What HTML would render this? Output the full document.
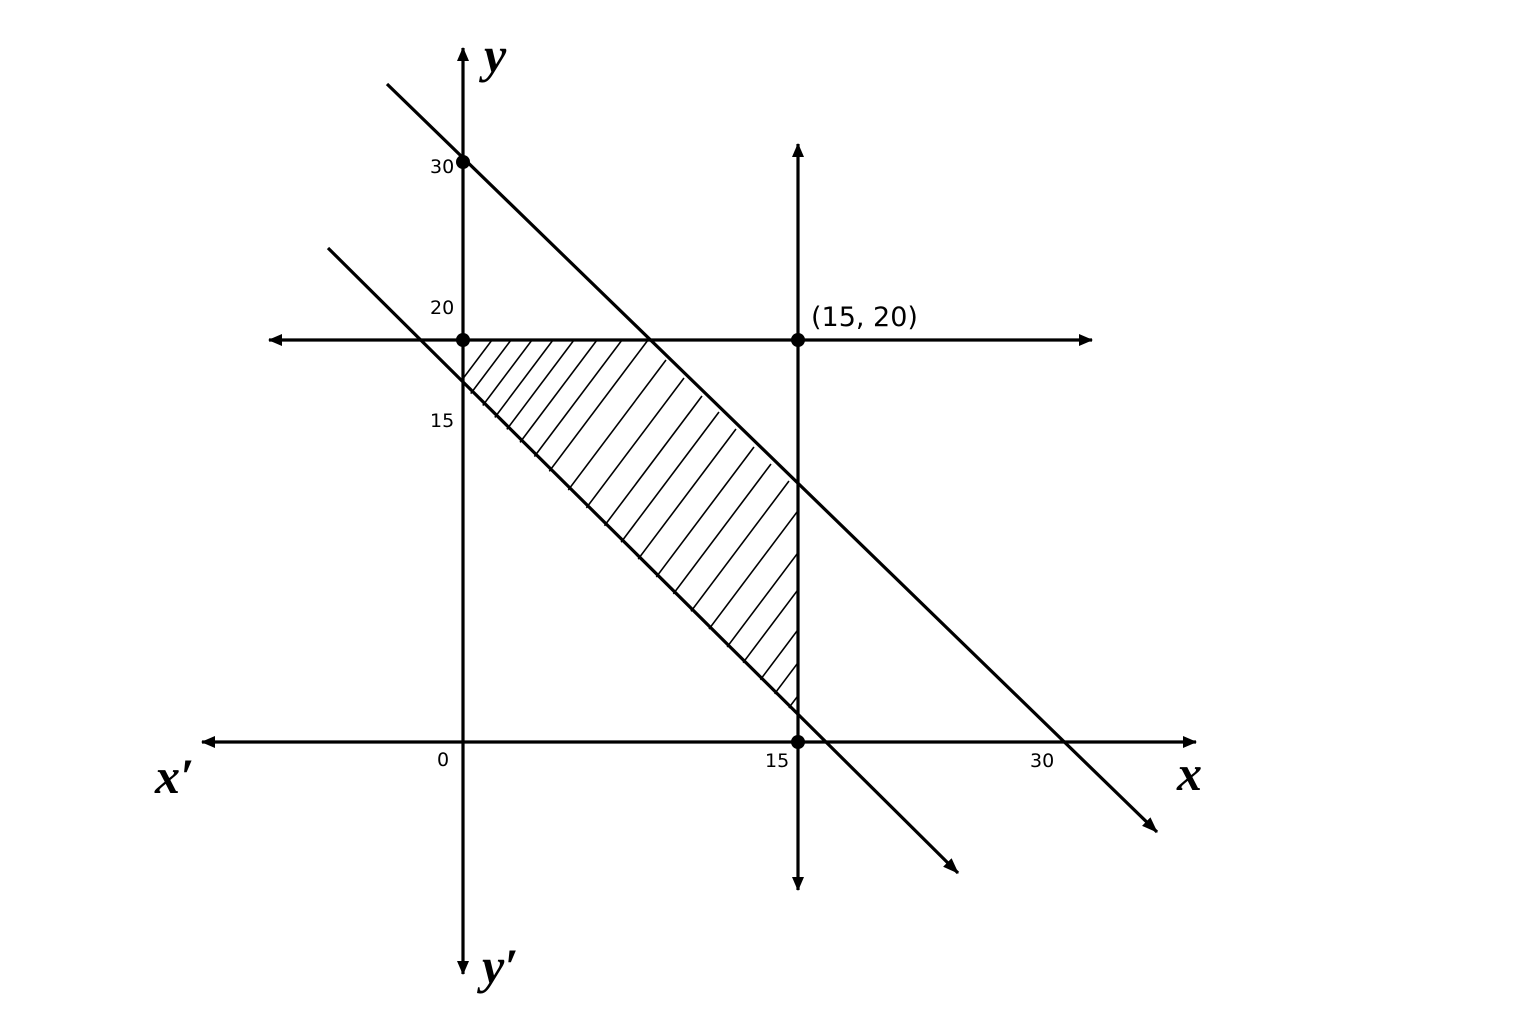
<!DOCTYPE html>
<html><head><meta charset="utf-8"><style>
html,body{margin:0;padding:0;background:#fff;width:1536px;height:1024px;overflow:hidden}
</style></head><body>
<svg width="1536" height="1024" viewBox="0 0 1536 1024" xmlns="http://www.w3.org/2000/svg">
<defs>
<marker id="a" markerWidth="14" markerHeight="12" refX="13" refY="6" orient="auto-start-reverse" markerUnits="userSpaceOnUse" viewBox="0 0 14 12">
<path d="M0,0 L14,6 L0,12 Z" fill="#000"/>
</marker>
<marker id="b" markerWidth="16" markerHeight="12" refX="15" refY="6" orient="auto" markerUnits="userSpaceOnUse" viewBox="0 0 16 12">
<path d="M0,0 L16,6 L0,12 Z" fill="#000"/>
</marker>
<clipPath id="c"><polygon points="463,340 648,340 798,488 798,717 463,386"/></clipPath>
</defs>
<g stroke="#000" stroke-width="1.6" fill="none" clip-path="url(#c)">
<line x1="492" y1="340" x2="292" y2="606"/>
<line x1="511" y1="340" x2="311" y2="606"/>
<line x1="532" y1="340" x2="332" y2="606"/>
<line x1="553" y1="340" x2="353" y2="606"/>
<line x1="574" y1="340" x2="374" y2="606"/>
<line x1="597" y1="340" x2="397" y2="606"/>
<line x1="622" y1="340" x2="422" y2="606"/>
<line x1="648" y1="340" x2="448" y2="606"/>
<line x1="666" y1="360" x2="466" y2="626"/>
<line x1="684" y1="378" x2="484" y2="644"/>
<line x1="702" y1="396" x2="502" y2="662"/>
<line x1="719" y1="412" x2="519" y2="678"/>
<line x1="736" y1="429" x2="536" y2="695"/>
<line x1="754" y1="447" x2="554" y2="713"/>
<line x1="771" y1="464" x2="571" y2="730"/>
<line x1="789" y1="481" x2="589" y2="747"/>
<line x1="800" y1="508" x2="600" y2="774"/>
<line x1="800" y1="550" x2="600" y2="816"/>
<line x1="800" y1="587" x2="600" y2="853"/>
<line x1="800" y1="627" x2="600" y2="893"/>
<line x1="800" y1="660" x2="600" y2="926"/>
<line x1="800" y1="693" x2="600" y2="959"/>
</g>
<g stroke="#000" stroke-width="3.2" fill="none">
<line x1="463" y1="974" x2="463" y2="48" marker-end="url(#a)" marker-start="url(#a)"/>
<line x1="202" y1="742" x2="1196" y2="742" marker-end="url(#a)" marker-start="url(#a)"/>
<line x1="269" y1="340" x2="1092" y2="340" marker-end="url(#a)" marker-start="url(#a)"/>
<line x1="798" y1="890" x2="798" y2="144" marker-end="url(#a)" marker-start="url(#a)"/>
<line x1="387" y1="84" x2="1157" y2="832" marker-end="url(#b)"/>
<line x1="328" y1="248" x2="958" y2="873" marker-end="url(#b)"/>
</g>
<g fill="#000">
<circle cx="463" cy="162" r="7"/>
<circle cx="463" cy="340" r="7"/>
<circle cx="798" cy="340" r="7"/>
<circle cx="798" cy="742" r="7"/>
</g>
<g font-family="DejaVu Sans, Liberation Sans, sans-serif" font-size="19" fill="#000">
<text x="430" y="173">30</text>
<text x="430" y="314">20</text>
<text x="430" y="427">15</text>
<text x="437" y="766">0</text>
<text x="765" y="767">15</text>
<text x="1030" y="767">30</text>
<text x="811" y="326" font-size="27">(15, 20)</text>
</g>
<g font-family="Liberation Serif, serif" font-style="italic" font-weight="bold" font-size="50" fill="#000">
<text x="484" y="72">y</text>
<text x="1177" y="790">x</text>
<text x="155" y="793">x′</text>
<text x="482" y="983">y′</text>
</g>
</svg>
</body></html>
